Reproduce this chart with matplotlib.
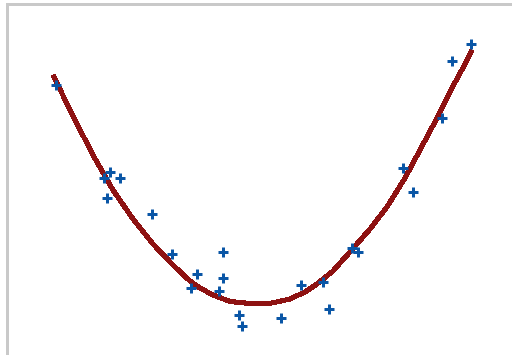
import matplotlib
matplotlib.use("Agg")
import matplotlib.pyplot as plt

# Observed samples
obs_x = [-2.86, -2.09, -2.17, -1.94, -2.13, -1.49, -1.20, -0.47, -0.84, -0.47,
         -0.93, -0.53, -0.24, -0.20, 0.36, 0.64, 0.96, 1.04, 1.37, 1.46,
         2.10, 2.24, 2.66, 2.80, 3.07]
obs_y = [8.75, 5.64, 5.43, 5.43, 4.71, 4.14, 2.71, 2.79, 2.00, 1.86,
         1.50, 1.39, 0.54, 0.14, 0.43, 1.61, 1.71, 0.75, 2.93, 2.79,
         5.79, 4.93, 7.57, 9.61, 10.21]

# Fitted trend curve
fit_x = [-2.900, -2.614, -2.329, -2.043, -1.757, -1.471, -1.186, -0.943, -0.800,
         -0.614, -0.371, -0.086, 0.229, 0.486, 0.700, 0.871, 1.100, 1.329,
         1.629, 1.871, 2.129, 2.343, 2.586, 2.800, 2.971, 3.086]
fit_y = [9.107, 7.643, 6.250, 5.000, 3.964, 3.071, 2.321, 1.750, 1.500,
         1.250, 1.018, 0.946, 0.964, 1.107, 1.357, 1.643, 2.107, 2.750,
         3.607, 4.393, 5.429, 6.429, 7.571, 8.643, 9.429, 10.000]

W, H, DPI = 512, 355, 100
fig = plt.figure(figsize=(W / DPI, H / DPI), dpi=DPI)
fig.patch.set_facecolor("white")

left_px, right_px, top_px, bottom_px = 7.0, 513.5, 4.0, 355.5
ax = fig.add_axes([left_px / W, 1 - bottom_px / H,
                   (right_px - left_px) / W, (bottom_px - top_px) / H])
ax.set_xlim(-3.557, 3.679)
ax.set_ylim(-0.911, 11.643)

px = 72 / DPI
ax.plot(fit_x, fit_y, color="#8e1212", lw=4 * px, antialiased=False,
        solid_capstyle="butt", solid_joinstyle="round", zorder=2)
ax.plot(obs_x, obs_y, linestyle="none", marker="+", markersize=10 * px,
        markeredgewidth=3 * px, color="#0a56a6", antialiased=False, zorder=3)

ax.set_xticks([])
ax.set_yticks([])
for s in ax.spines.values():
    s.set_color("#c9c9c9")
    s.set_linewidth(3 * px)

fig.savefig("out.png", dpi=DPI)
